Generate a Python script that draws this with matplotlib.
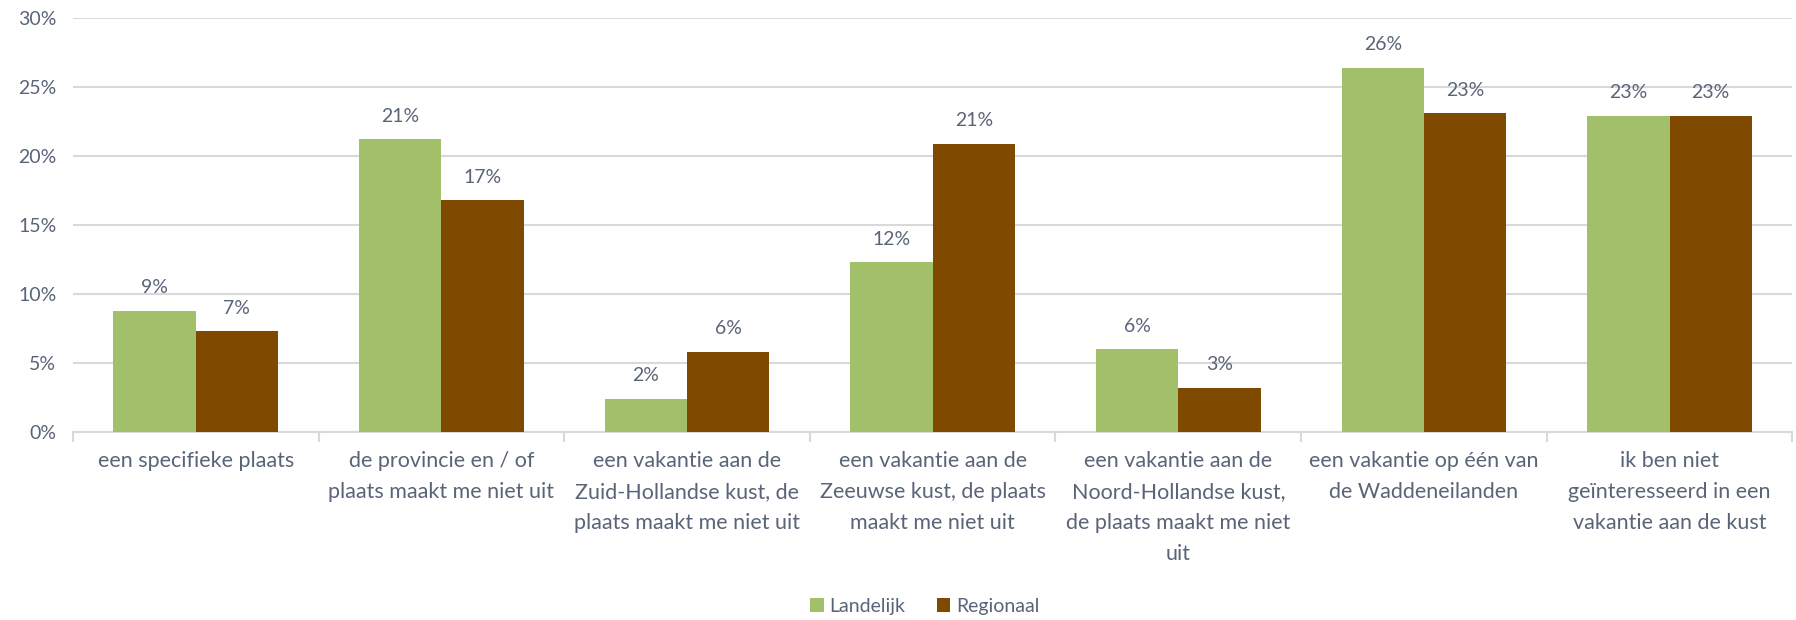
import matplotlib
matplotlib.use("Agg")
import matplotlib.pyplot as plt
import numpy as np
from matplotlib.ticker import FuncFormatter, FixedLocator

categories = [
    "een specifieke plaats",
    "de provincie en / of\nplaats maakt me niet uit",
    "een vakantie aan de\nZuid-Hollandse kust, de\nplaats maakt me niet uit",
    "een vakantie aan de\nZeeuwse kust, de plaats\nmaakt me niet uit",
    "een vakantie aan de\nNoord-Hollandse kust,\nde plaats maakt me niet\nuit",
    "een vakantie op één van\nde Waddeneilanden",
    "ik ben niet\ngeïnteresseerd in een\nvakantie aan de kust",
]
landelijk = [8.8, 21.2, 2.4, 12.3, 6.0, 26.4, 22.9]
regionaal = [7.3, 16.8, 5.8, 20.9, 3.2, 23.1, 22.9]
series_names = ["Landelijk", "Regionaal"]
colors = ["#A2BF6A", "#7F4A00"]
text_color = "#5A6478"
grid_color = "#D9D9D9"

plt.rcParams['font.family'] = ['Lato', 'DejaVu Sans']

fig = plt.figure(figsize=(17.96, 6.2), dpi=100)
ax = fig.add_axes([0.0406, 0.3032, 0.9574, 0.6678])

x = np.arange(len(categories))
w = 0.335
b1 = ax.bar(x - w/2, landelijk, w, color=colors[0], label=series_names[0], zorder=3)
b2 = ax.bar(x + w/2, regionaal, w, color=colors[1], label=series_names[1], zorder=3)

for bars, vals in ((b1, landelijk), (b2, regionaal)):
    for rect, v in zip(bars, vals):
        ax.annotate(f"{round(v):.0f}%", (rect.get_x() + rect.get_width()/2, v),
                    xytext=(0, 10.5), textcoords="offset points",
                    ha="center", va="bottom", fontsize=14, color=text_color)

ax.set_xlim(-0.5, len(categories) - 0.5)
ax.set_ylim(0, 30)
ax.set_yticks(np.arange(0, 31, 5))
ax.yaxis.set_major_formatter(FuncFormatter(lambda v, p: f"{v:.0f}%"))
ax.grid(axis="y", color=grid_color, linewidth=1.5, zorder=0)
ax.set_axisbelow(True)

ax.set_xticks(x)
ax.set_xticklabels(categories, fontsize=15.5, color=text_color, linespacing=1.68)
ax.xaxis.set_minor_locator(FixedLocator(np.arange(-0.5, len(categories), 1.0)))
ax.tick_params(axis="x", which="major", length=0, pad=14)
ax.tick_params(axis="x", which="minor", length=7, width=1.5, color=grid_color)
ax.tick_params(axis="y", length=0, labelsize=14, labelcolor=text_color, pad=12)

for s in ("top", "right", "left"):
    ax.spines[s].set_visible(False)
ax.spines["bottom"].set_color(grid_color)
ax.spines["bottom"].set_linewidth(1.5)

leg = fig.legend(loc="center", bbox_to_anchor=(0.515, 0.022), ncol=2, frameon=False,
                 fontsize=14, handlelength=0.7, handleheight=0.7, handletextpad=0.3,
                 columnspacing=1.6)
for t in leg.get_texts():
    t.set_color(text_color)

fig.savefig("out.png", dpi=100)
